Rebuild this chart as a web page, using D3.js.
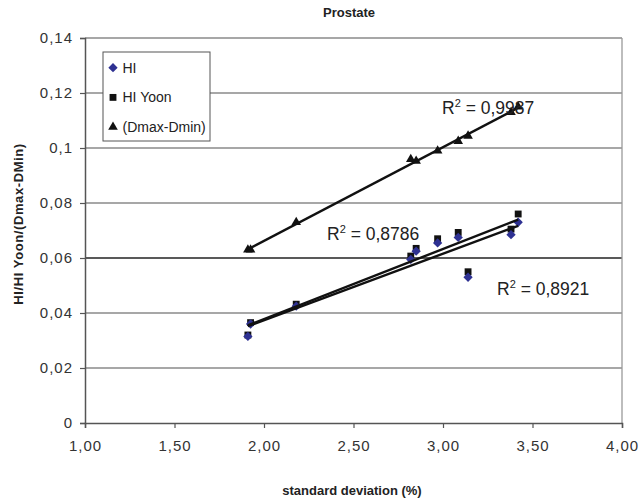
<!DOCTYPE html>
<html lang="en">
<head>
  <meta charset="UTF-8">
  <title>Prostate</title>
  <script src="https://d3js.org/d3.v7.min.js"></script>
  <style>
    body { margin: 0; background: #fff; }
    text { font-family: "Liberation Sans", Arial, sans-serif; }
  </style>
</head>
<body>
  <div id="canvas"></div>
  <script>
    // values
    const stdDev = [1.91, 1.925, 2.18, 2.82, 2.85, 2.97, 3.085, 3.14, 3.38, 3.42];
    const hi = [0.0315, 0.036, 0.0425, 0.0595, 0.0625, 0.0655, 0.0675, 0.053, 0.0685, 0.073];
    const hiYoon = [0.032, 0.0365, 0.0432, 0.0607, 0.0635, 0.067, 0.0693, 0.055, 0.0705, 0.076];
    const dmaxDmin = [0.063, 0.063, 0.073, 0.0959, 0.0953, 0.099, 0.1025, 0.1044, 0.113, 0.115];
    const seriesNames = ['HI', 'HI Yoon', '(Dmax-Dmin)'];
    const r2Labels = ['0,8921', '0,8786', '0,9987'];
    const xTicks = [1, 1.5, 2, 2.5, 3, 3.5, 4];
    const yTicks = [0, 0.02, 0.04, 0.06, 0.08, 0.1, 0.12, 0.14];

    const width = 640;
    const height = 500;
    const plotLeft = 85, plotRight = 622, plotTop = 38, plotBottom = 423;

    const scaleX = d3.scaleLinear().domain([1, 4]).range([plotLeft, plotRight]);
    const scaleY = d3.scaleLinear().domain([0, 0.14]).range([plotBottom, plotTop]);

    const svg = d3.select('#canvas')
      .append('svg')
      .attr('width', width)
      .attr('height', height);

    // gridlines
    svg.append('g')
      .selectAll('line')
      .data(yTicks.slice(1))
      .enter()
      .append('line')
      .attr('x1', plotLeft)
      .attr('x2', plotRight)
      .attr('y1', d => scaleY(d))
      .attr('y2', d => scaleY(d))
      .attr('stroke', d => d === 0.06 ? '#222' : '#8a8a8a')
      .attr('stroke-width', 1.3);

    // right border
    svg.append('line')
      .attr('x1', plotRight).attr('x2', plotRight)
      .attr('y1', plotTop).attr('y2', plotBottom)
      .attr('stroke', '#9a9a9a')
      .attr('stroke-width', 1.3);

    const fmt = d => d === 0 ? '0' : String(+d.toFixed(2)).replace('.', ',');

    const yAxis = d3.axisLeft(scaleY).tickValues(yTicks).tickSize(5).tickPadding(7).tickFormat(fmt);
    const gy = svg.append('g')
      .attr('transform', 'translate(' + plotLeft + ',0)')
      .call(yAxis);
    const xAxis = d3.axisBottom(scaleX).tickValues(xTicks).tickSize(5).tickPadding(12)
      .tickFormat(d => d.toFixed(2).replace('.', ','));
    const gx = svg.append('g')
      .attr('transform', 'translate(0,' + plotBottom + ')')
      .call(xAxis);
    [gx, gy].forEach(g => {
      g.select('.domain').attr('stroke', '#555').attr('stroke-width', 1.5);
      g.selectAll('.tick line').attr('stroke', '#555').attr('stroke-width', 1.2);
      g.selectAll('.tick text')
        .attr('fill', '#333')
        .style('font-size', '15px')
        .style('letter-spacing', '1px')
        .style('font-family', '"Liberation Sans", Arial, sans-serif');
    });

    // markers
    const symDiamond = d3.symbol().type(d3.symbolDiamond2).size(55);
    const symSquare = d3.symbol().type(d3.symbolSquare2).size(60);
    const symTriangle = d3.symbol().type(d3.symbolTriangle2).size(66);

    const series = [
      { values: hi, sym: symDiamond, color: '#2e3192' },
      { values: hiYoon, sym: symSquare, color: '#111' },
      { values: dmaxDmin, sym: symTriangle, color: '#111' }
    ];

    // squares drawn first so the blue diamonds peek out below them
    [series[1], series[0], series[2]].forEach(s => {
      svg.append('g')
        .selectAll('path')
        .data(s.values)
        .enter()
        .append('path')
        .attr('d', s.sym)
        .attr('fill', s.color)
        .attr('transform', (d, i) => 'translate(' + scaleX(stdDev[i]) + ',' + scaleY(d) + ')');
    });

    // linear trendlines
    series.forEach(s => {
      const n = stdDev.length;
      const mx = d3.mean(stdDev), my = d3.mean(s.values);
      let sxy = 0, sxx = 0;
      for (let i = 0; i < n; i++) {
        sxy += (stdDev[i] - mx) * (s.values[i] - my);
        sxx += (stdDev[i] - mx) * (stdDev[i] - mx);
      }
      const b = sxy / sxx, a = my - b * mx;
      const x0 = d3.min(stdDev), x1 = d3.max(stdDev);
      svg.append('line')
        .attr('x1', scaleX(x0)).attr('y1', scaleY(a + b * x0))
        .attr('x2', scaleX(x1)).attr('y2', scaleY(a + b * x1))
        .attr('stroke', '#111')
        .attr('stroke-width', 2.4);
    });

    // R² labels
    const r2Pos = [[497, 295], [327, 240], [442, 114]];
    r2Labels.forEach((t, i) => {
      const txt = svg.append('text')
        .attr('x', r2Pos[i][0])
        .attr('y', r2Pos[i][1])
        .attr('fill', '#222')
        .style('font-size', '17.5px');
      txt.append('tspan').text('R');
      txt.append('tspan').attr('dy', -7).style('font-size', '11px').text('2');
      txt.append('tspan').attr('dy', 7).text(' = ' + t);
    });

    // legend
    const legend = svg.append('g').attr('id', 'legend');
    legend.append('rect')
      .attr('x', 103).attr('y', 52)
      .attr('width', 107).attr('height', 89)
      .attr('fill', '#fff')
      .attr('stroke', '#555')
      .attr('stroke-width', 1);
    const legSyms = [symDiamond, symSquare, symTriangle];
    seriesNames.forEach((name, i) => {
      const y = 67.7 + i * 29.7;
      legend.append('path')
        .attr('d', legSyms[i])
        .attr('fill', series[i].color)
        .attr('transform', 'translate(113,' + y + ')');
      legend.append('text')
        .attr('x', 122.5)
        .attr('y', y + 5)
        .attr('fill', '#222')
        .style('font-size', '14px')
        .text(name);
    });

    // titles
    svg.append('text')
      .attr('x', 349).attr('y', 17)
      .attr('text-anchor', 'middle')
      .attr('fill', '#222')
      .style('font-size', '13px')
      .style('font-weight', 'bold')
      .text('Prostate');
    svg.append('text')
      .attr('x', 352).attr('y', 495)
      .attr('text-anchor', 'middle')
      .attr('fill', '#222')
      .style('font-size', '13px')
      .style('font-weight', 'bold')
      .text('standard deviation (%)');
    svg.append('text')
      .attr('transform', 'translate(23,224) rotate(-90)')
      .attr('text-anchor', 'middle')
      .attr('fill', '#222')
      .style('font-size', '13px')
      .style('font-weight', 'bold')
      .style('letter-spacing', '0.6px')
      .text('HI/HI Yoon/(Dmax-DMin)');
  </script>
</body>
</html>
